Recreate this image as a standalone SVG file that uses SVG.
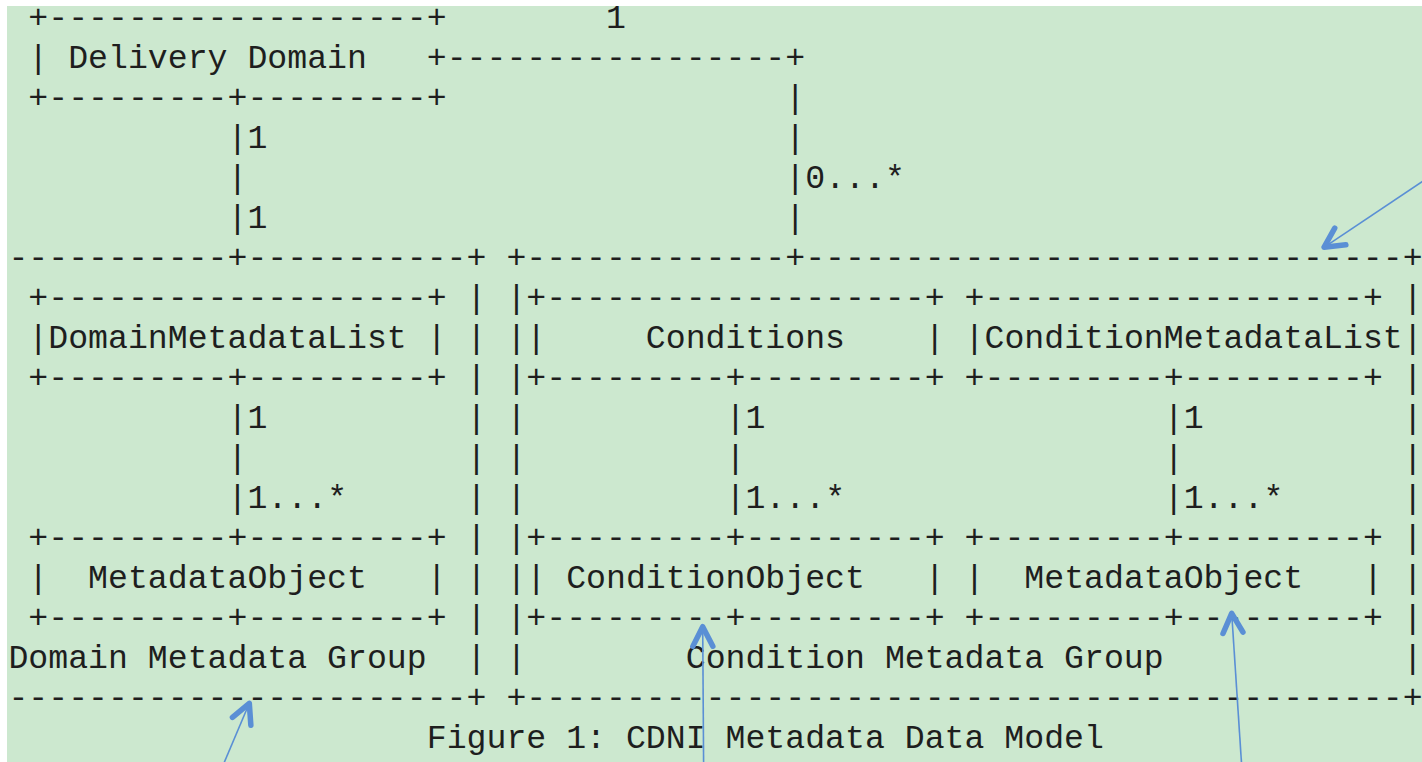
<svg xmlns="http://www.w3.org/2000/svg" width="1422" height="762" viewBox="0 0 1422 762" xml:space="preserve">
<style>
.t{font-family:"Liberation Mono","Courier New",monospace;font-size:33.2px;fill:#1e1e1e;white-space:pre}
.ann{stroke:#5a8fd5;stroke-width:1.6;fill:none}
</style>
<defs>
<marker id="ah" markerUnits="userSpaceOnUse" orient="auto" overflow="visible" refX="0" refY="0" markerWidth="30" markerHeight="30">
<path d="M-19.6,-10 L0,0 L-19.6,10" fill="none" stroke="#5a8fd5" stroke-width="5.5" stroke-linecap="round" stroke-linejoin="round"/>
</marker>
</defs>
<rect x="0" y="0" width="1422" height="762" fill="#ffffff"/>
<rect x="7" y="6" width="1415" height="756" fill="#cce8cf"/>

<g id="group-domain-metadata">
<text class="t" x="8.44" y="268.3">-----------+-----------+</text>
<text class="t" x="466.6" y="308.3">|</text>
<text class="t" x="466.6" y="348.3">|</text>
<text class="t" x="466.6" y="388.3">|</text>
<text class="t" x="466.6" y="428.3">|</text>
<text class="t" x="466.6" y="468.3">|</text>
<text class="t" x="466.6" y="508.3">|</text>
<text class="t" x="466.6" y="548.3">|</text>
<text class="t" x="466.6" y="588.3">|</text>
<text class="t" x="466.6" y="628.3">|</text>
<text class="t" x="466.6" y="668.3">|</text>
<text class="t" x="8.44" y="668.3">Domain Metadata Group</text>
<text class="t" x="8.44" y="708.3">-----------------------+</text>
</g>

<g id="group-condition-metadata">
<text class="t" x="506.44" y="268.3">+-------------+------------------------------+</text>
<text class="t" x="506.44" y="308.3">|</text>
<text class="t" x="506.44" y="348.3">|</text>
<text class="t" x="506.44" y="388.3">|</text>
<text class="t" x="506.44" y="428.3">|</text>
<text class="t" x="506.44" y="468.3">|</text>
<text class="t" x="506.44" y="508.3">|</text>
<text class="t" x="506.44" y="548.3">|</text>
<text class="t" x="506.44" y="588.3">|</text>
<text class="t" x="506.44" y="628.3">|</text>
<text class="t" x="506.44" y="668.3">|</text>
<text class="t" x="1402.84" y="308.3">|</text>
<text class="t" x="1402.84" y="348.3">|</text>
<text class="t" x="1402.84" y="388.3">|</text>
<text class="t" x="1402.84" y="428.3">|</text>
<text class="t" x="1402.84" y="468.3">|</text>
<text class="t" x="1402.84" y="508.3">|</text>
<text class="t" x="1402.84" y="548.3">|</text>
<text class="t" x="1402.84" y="588.3">|</text>
<text class="t" x="1402.84" y="628.3">|</text>
<text class="t" x="1402.84" y="668.3">|</text>
<text class="t" x="685.72" y="668.3">Condition Metadata Group</text>
<text class="t" x="506.44" y="708.3">+--------------------------------------------+</text>
</g>

<g id="node-delivery-domain">
<text class="t" x="28.36" y="28.3">+-------------------+</text>
<text class="t" x="28.36" y="68.3">| Delivery Domain</text>
<text class="t" x="28.36" y="108.3">+---------+---------+</text>
</g>

<g id="node-domain-metadata-list">
<text class="t" x="28.36" y="308.3">+-------------------+</text>
<text class="t" x="28.36" y="348.3">|DomainMetadataList |</text>
<text class="t" x="28.36" y="388.3">+---------+---------+</text>
</g>

<g id="node-metadata-object-domain">
<text class="t" x="28.36" y="548.3">+---------+---------+</text>
<text class="t" x="28.36" y="588.3">|  MetadataObject   |</text>
<text class="t" x="28.36" y="628.3">+---------+---------+</text>
</g>

<g id="node-conditions">
<text class="t" x="526.36" y="308.3">+-------------------+</text>
<text class="t" x="526.36" y="348.3">|     Conditions    |</text>
<text class="t" x="526.36" y="388.3">+---------+---------+</text>
</g>

<g id="node-condition-object">
<text class="t" x="526.36" y="548.3">+---------+---------+</text>
<text class="t" x="526.36" y="588.3">| ConditionObject   |</text>
<text class="t" x="526.36" y="628.3">+---------+---------+</text>
</g>

<g id="node-condition-metadata-list">
<text class="t" x="964.6" y="308.3">+-------------------+</text>
<text class="t" x="964.6" y="348.3">|ConditionMetadataList</text>
<text class="t" x="964.6" y="388.3">+---------+---------+</text>
</g>

<g id="node-metadata-object-condition">
<text class="t" x="964.6" y="548.3">+---------+---------+</text>
<text class="t" x="964.6" y="588.3">|  MetadataObject   |</text>
<text class="t" x="964.6" y="628.3">+---------+---------+</text>
</g>

<g id="connectors">
<text class="t" x="426.76" y="68.3">+-----------------+</text>
<text class="t" x="606.04" y="28.3">1</text>
<text class="t" x="785.32" y="108.3">|</text>
<text class="t" x="785.32" y="148.3">|</text>
<text class="t" x="785.32" y="188.3">|0...*</text>
<text class="t" x="785.32" y="228.3">|</text>
<text class="t" x="227.56" y="148.3">|1</text>
<text class="t" x="227.56" y="188.3">|</text>
<text class="t" x="227.56" y="228.3">|1</text>
<text class="t" x="227.56" y="428.3">|1</text>
<text class="t" x="227.56" y="468.3">|</text>
<text class="t" x="227.56" y="508.3">|1...*</text>
<text class="t" x="725.56" y="428.3">|1</text>
<text class="t" x="725.56" y="468.3">|</text>
<text class="t" x="725.56" y="508.3">|1...*</text>
<text class="t" x="1163.8" y="428.3">|1</text>
<text class="t" x="1163.8" y="468.3">|</text>
<text class="t" x="1163.8" y="508.3">|1...*</text>
</g>

<g id="caption">
<text class="t" x="426.76" y="748.3">Figure 1: CDNI Metadata Data Model</text>
</g>

<g id="annotations">
<line class="ann" x1="1424" y1="180.4" x2="1324" y2="247.3" marker-end="url(#ah)"/>
<line class="ann" x1="224" y1="763" x2="249.3" y2="703.3" marker-end="url(#ah)"/>
<line class="ann" x1="703.6" y1="763" x2="702.7" y2="626.7" marker-end="url(#ah)"/>
<line class="ann" x1="1241.5" y1="763" x2="1231.7" y2="613.3" marker-end="url(#ah)"/>
</g>
</svg>
